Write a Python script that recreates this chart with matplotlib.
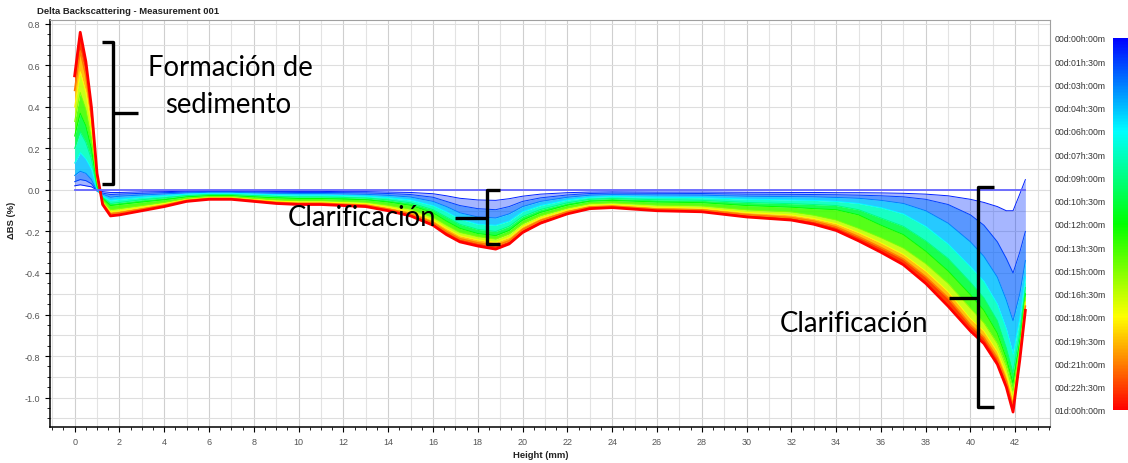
import matplotlib
matplotlib.use('Agg')
import matplotlib.pyplot as plt
import matplotlib.cm as cm
from matplotlib.colors import LinearSegmentedColormap, Normalize
from matplotlib.ticker import MultipleLocator

# ---- data (Height in mm, Delta BS in %) ----
height = [0.0, 0.25, 0.5, 0.75, 1.0, 1.25, 1.6, 2.0, 3, 4, 5, 6, 7, 8, 9, 10, 11, 12, 13, 14, 15, 16,
          16.6, 17.2, 18.0, 18.8, 19.4, 20.0, 20.8, 22, 23, 24, 26, 28, 30, 32, 33, 34, 35, 36, 37, 38, 39, 40,
          40.6, 41.2, 41.6, 41.9, 42.2, 42.45]

bs_00h00 = [0.0] * 50
bs_00h45 = [0.02, 0.025, 0.02, 0.015, 0.0, -0.008, -0.012, -0.012, -0.009, -0.008, -0.006, -0.005, -0.005, -0.006,
            -0.007, -0.007, -0.007, -0.008, -0.008, -0.01, -0.012, -0.018, -0.028, -0.04, -0.048, -0.05, -0.042,
            -0.03, -0.02, -0.013, -0.01, -0.009, -0.01, -0.01, -0.011, -0.012, -0.012, -0.013, -0.013, -0.014,
            -0.016, -0.02, -0.028, -0.045, -0.06, -0.08, -0.1, -0.1, -0.02, 0.05]
bs_01h30 = [0.04, 0.05, 0.045, 0.03, -0.005, -0.015, -0.022, -0.02, -0.016, -0.013, -0.01, -0.008, -0.008, -0.01,
            -0.011, -0.012, -0.012, -0.013, -0.014, -0.017, -0.022, -0.035, -0.055, -0.075, -0.09, -0.095, -0.08,
            -0.055, -0.038, -0.024, -0.017, -0.015, -0.016, -0.017, -0.02, -0.021, -0.022, -0.023, -0.025, -0.028,
            -0.033, -0.045, -0.07, -0.12, -0.17, -0.25, -0.33, -0.4, -0.3, -0.2]
bs_03h00 = [0.07, 0.09, 0.08, 0.05, -0.005, -0.02, -0.035, -0.03, -0.024, -0.019, -0.014, -0.011, -0.011, -0.014,
            -0.016, -0.017, -0.017, -0.019, -0.021, -0.026, -0.034, -0.055, -0.08, -0.11, -0.13, -0.135, -0.115,
            -0.08, -0.055, -0.035, -0.025, -0.022, -0.024, -0.025, -0.03, -0.032, -0.033, -0.036, -0.04, -0.05,
            -0.065, -0.1, -0.16, -0.25, -0.32, -0.42, -0.53, -0.63, -0.5, -0.34]
bs_06h00 = [0.13, 0.18, 0.15, 0.10, 0.0, -0.03, -0.05, -0.045, -0.035, -0.028, -0.02, -0.016, -0.016, -0.02,
            -0.023, -0.025, -0.025, -0.027, -0.03, -0.037, -0.048, -0.075, -0.105, -0.14, -0.165, -0.17, -0.15,
            -0.105, -0.075, -0.048, -0.035, -0.031, -0.035, -0.037, -0.044, -0.048, -0.05, -0.055, -0.065, -0.085,
            -0.115, -0.175, -0.26, -0.37, -0.44, -0.55, -0.67, -0.79, -0.62, -0.42]
bs_09h00 = [0.20, 0.28, 0.23, 0.15, 0.01, -0.035, -0.065, -0.06, -0.047, -0.038, -0.027, -0.022, -0.022, -0.027,
            -0.031, -0.034, -0.034, -0.036, -0.039, -0.048, -0.062, -0.095, -0.13, -0.165, -0.19, -0.2, -0.175,
            -0.128, -0.094, -0.062, -0.045, -0.041, -0.047, -0.05, -0.06, -0.066, -0.07, -0.075, -0.095, -0.135,
            -0.175, -0.245, -0.33, -0.445, -0.52, -0.63, -0.76, -0.88, -0.69, -0.47]
bs_12h00 = [0.26, 0.37, 0.31, 0.20, 0.02, -0.04, -0.075, -0.07, -0.058, -0.047, -0.033, -0.027, -0.027, -0.033,
            -0.038, -0.041, -0.041, -0.044, -0.047, -0.058, -0.074, -0.11, -0.15, -0.185, -0.21, -0.22, -0.195,
            -0.145, -0.108, -0.073, -0.054, -0.05, -0.058, -0.061, -0.075, -0.083, -0.09, -0.095, -0.12, -0.17,
            -0.215, -0.295, -0.39, -0.505, -0.58, -0.69, -0.81, -0.93, -0.73, -0.50]
bs_15h00 = [0.33, 0.47, 0.39, 0.25, 0.035, -0.05, -0.095, -0.09, -0.075, -0.06, -0.041, -0.033, -0.033, -0.041,
            -0.048, -0.052, -0.052, -0.055, -0.059, -0.074, -0.093, -0.132, -0.17, -0.205, -0.225, -0.237, -0.212,
            -0.163, -0.124, -0.087, -0.066, -0.062, -0.073, -0.077, -0.096, -0.106, -0.122, -0.145, -0.185, -0.23,
            -0.28, -0.355, -0.45, -0.57, -0.64, -0.74, -0.85, -0.97, -0.76, -0.52]
bs_18h00 = [0.40, 0.57, 0.47, 0.30, 0.05, -0.06, -0.105, -0.10, -0.083, -0.066, -0.046, -0.037, -0.037, -0.046,
            -0.054, -0.058, -0.058, -0.062, -0.066, -0.083, -0.104, -0.145, -0.185, -0.22, -0.24, -0.252, -0.228,
            -0.176, -0.135, -0.096, -0.074, -0.07, -0.083, -0.087, -0.108, -0.12, -0.137, -0.162, -0.205, -0.255,
            -0.31, -0.39, -0.49, -0.62, -0.68, -0.78, -0.89, -1.01, -0.78, -0.54]
bs_21h00 = [0.48, 0.67, 0.55, 0.36, 0.07, -0.065, -0.115, -0.11, -0.092, -0.073, -0.05, -0.041, -0.041, -0.05,
            -0.06, -0.064, -0.064, -0.069, -0.073, -0.092, -0.115, -0.157, -0.2, -0.235, -0.255, -0.268, -0.245,
            -0.19, -0.147, -0.105, -0.082, -0.078, -0.092, -0.096, -0.119, -0.133, -0.15, -0.178, -0.225, -0.277,
            -0.333, -0.418, -0.52, -0.65, -0.71, -0.81, -0.92, -1.04, -0.80, -0.56]
bs_24h00 = [0.55, 0.76, 0.62, 0.40, 0.08, -0.07, -0.125, -0.12, -0.10, -0.08, -0.055, -0.045, -0.045, -0.055,
            -0.065, -0.07, -0.07, -0.075, -0.08, -0.10, -0.125, -0.17, -0.215, -0.25, -0.27, -0.285, -0.26,
            -0.205, -0.16, -0.115, -0.09, -0.085, -0.10, -0.105, -0.13, -0.145, -0.165, -0.195, -0.245, -0.30,
            -0.36, -0.45, -0.56, -0.68, -0.74, -0.84, -0.95, -1.07, -0.82, -0.58]

profile_hours = [0, 0.75, 1.5, 3, 6, 9, 12, 15, 18, 21, 24]
profiles = [bs_00h00, bs_00h45, bs_01h30, bs_03h00, bs_06h00, bs_09h00, bs_12h00, bs_15h00, bs_18h00,
            bs_21h00, bs_24h00]

cbar_hours = [0, 1.5, 3, 4.5, 6, 7.5, 9, 10.5, 12, 13.5, 15, 16.5, 18, 19.5, 21, 22.5, 24]
cbar_labels = ['00d:00h:00m', '00d:01h:30m', '00d:03h:00m', '00d:04h:30m', '00d:06h:00m', '00d:07h:30m',
               '00d:09h:00m', '00d:10h:30m', '00d:12h:00m', '00d:13h:30m', '00d:15h:00m', '00d:16h:30m',
               '00d:18h:00m', '00d:19h:30m', '00d:21h:00m', '00d:22h:30m', '01d:00h:00m']

# ---- figure ----
W, H = 1128, 464
fig = plt.figure(figsize=(W / 100, H / 100), dpi=100)
plt.rcParams['font.family'] = ['Liberation Sans', 'DejaVu Sans']
ax = fig.add_axes([50 / W, (H - 428) / H, 1000 / W, 407 / H])

bs_cmap = LinearSegmentedColormap.from_list('bs', ['#0000ff', '#00ffff', '#00ff00', '#ffff00', '#ff0000'])
norm = Normalize(0, 24)

# grid
for g in range(-1, 44):
    ax.axvline(g, color='#cfcfcf' if g % 2 == 0 else '#e3e3e3', lw=0.8, zorder=0)
for k in range(-11, 9):
    ax.axhline(k / 10, color='#dedede', lw=0.8, zorder=0)

# coloured bands between successive profiles; the early (sparse, blue) ones are kept light
band_alpha = [0.0, 0.35, 0.65, 0.85, 0.9, 0.9, 0.9, 0.9, 0.95, 1.0]
for i in range(1, len(profiles) - 1):
    tm = 0.5 * (profile_hours[i] + profile_hours[i + 1])
    ax.fill_between(height, profiles[i], profiles[i + 1], color=bs_cmap(norm(tm)),
                    alpha=band_alpha[i], lw=0, zorder=2)
for t, p in zip(profile_hours[1:-2], profiles[1:-2]):
    ax.plot(height, p, color=bs_cmap(norm(t)), lw=0.7, zorder=3)
ax.plot(height, bs_21h00, color=bs_cmap(norm(21)), lw=1.2, zorder=3)
ax.plot(height, bs_24h00, color='#ff0000', lw=2.0, zorder=3)
ax.plot(height, bs_00h00, color='#6464ff', lw=1.3, zorder=3)

# brackets
bk = dict(color='black', lw=2.4, zorder=5, solid_joinstyle='round', solid_capstyle='butt')
ax.plot([1.21, 1.71, 1.71, 1.21], [0.712, 0.712, 0.029, 0.029], **bk)
ax.plot([1.71, 2.85], [0.371, 0.371], **bk)
ax.plot([19.0, 18.43, 18.43, 19.0], [0.0015, 0.0015, -0.26, -0.26], **bk)
ax.plot([16.99, 18.43], [-0.136, -0.136], **bk)
ax.plot([41.05, 40.35, 40.35, 41.05], [0.013, 0.013, -1.047, -1.047], **bk)
ax.plot([39.05, 40.35], [-0.522, -0.522], **bk)

ann = dict(family=['Lato', 'DejaVu Sans'], fontsize=19.8, color='black', zorder=6, ha='center', va='baseline')
ax.text(6.95, 0.554, 'Formación de', **ann)
ax.text(6.85, 0.374, 'sedimento', **ann)
ax.text(12.85, -0.169, 'Clarificación', **ann)
ax.text(34.8, -0.678, 'Clarificación', **ann)

ax.set_xlim(-1.1, 43.55)
ax.set_ylim(-1.142, 0.819)
ax.xaxis.set_major_locator(MultipleLocator(2))
ax.xaxis.set_minor_locator(MultipleLocator(0.5))
ax.yaxis.set_major_locator(MultipleLocator(0.2))
ax.yaxis.set_minor_locator(MultipleLocator(0.05))
ax.yaxis.set_major_formatter(lambda v, pos: f'{v:.1f}')
ax.tick_params(which='both', direction='out', color='black', labelsize=6.5, labelcolor='#555555')
ax.tick_params(which='major', length=3.5)
ax.tick_params(which='minor', length=2.5)
for s in ['left', 'bottom']:
    ax.spines[s].set_color('black')
    ax.spines[s].set_linewidth(1.1)
for s in ['top', 'right']:
    ax.spines[s].set_color('#a0a0a0')
    ax.spines[s].set_linewidth(0.8)

fig.text(37 / W, 1 - 12 / H, 'Delta Backscattering - Measurement 001', fontsize=6.8, fontweight='bold',
         ha='left', va='center', color='#222222')
fig.text(12 / W, 1 - 220 / H, 'ΔBS (%)', fontsize=6.8, fontweight='bold', rotation=90,
         ha='center', va='center', color='#222222')
fig.text(541 / W, 1 - 456 / H, 'Height (mm)', fontsize=6.8, fontweight='bold', ha='center', va='center',
         color='#222222')

# colour scale on the right
cax = fig.add_axes([1113 / W, (H - 411) / H, 16 / W, 372 / H])
cb = fig.colorbar(cm.ScalarMappable(norm=norm, cmap=bs_cmap), cax=cax)
cb.outline.set_visible(False)
cax.invert_yaxis()
cax.yaxis.set_ticks_position('left')
cax.set_yticks(cbar_hours)
cax.set_yticklabels(cbar_labels, fontsize=6.3, color='#333333')
cax.tick_params(length=0, pad=5)

fig.savefig('out.png', dpi=100)
